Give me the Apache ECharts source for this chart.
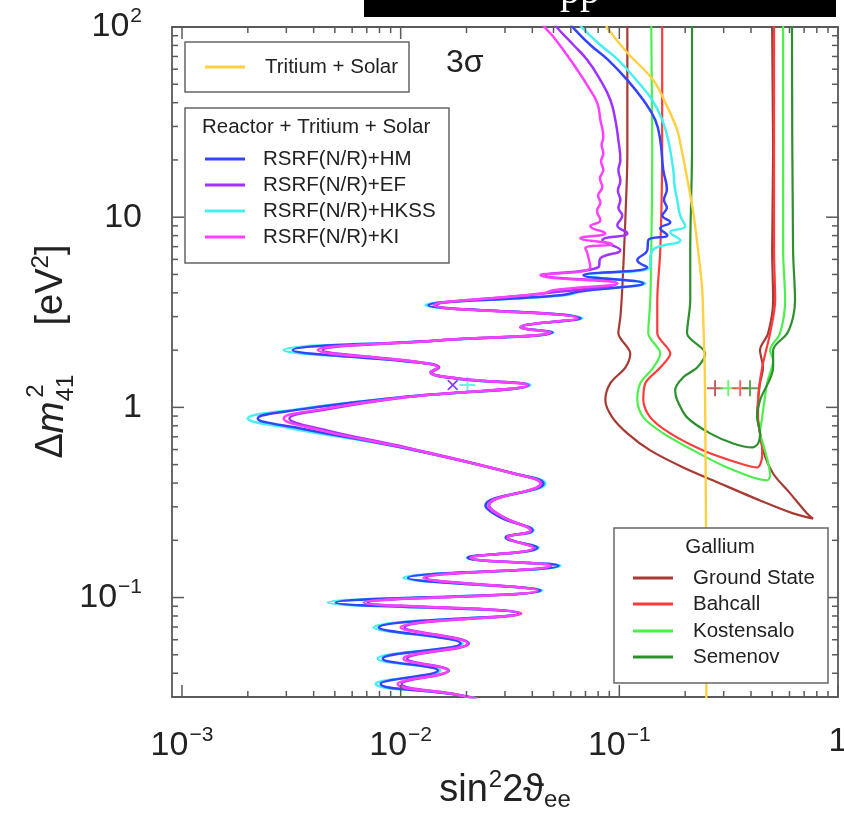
<!DOCTYPE html>
<html>
<head>
<meta charset="utf-8">
<script src="https://cdn.jsdelivr.net/npm/echarts@6/dist/echarts.min.js"></script>
<style>
  html, body { margin: 0; padding: 0; background: #ffffff; }
  #chart { width: 844px; height: 824px; }
</style>
</head>
<body>
<div id="chart"></div>
<script>
// Axis ranges: sin^2(2 theta_ee) on x, Delta m^2_41 [eV^2] on y (both logarithmic)
const X_MIN = 0.0009, X_MAX = 1;
const Y_MIN = 0.03, Y_MAX = 100;

// Tick positions
const xTicksMajor = [0.001, 0.01, 0.1, 1];
const xTicksMinor = [0.002, 0.003, 0.004, 0.005, 0.006, 0.007, 0.008, 0.009,
                     0.02, 0.03, 0.04, 0.05, 0.06, 0.07, 0.08, 0.09,
                     0.2, 0.3, 0.4, 0.5, 0.6, 0.7, 0.8, 0.9];
const yTicksMajor = [0.1, 1, 10, 100];
const yTicksMinor = [0.04, 0.05, 0.06, 0.07, 0.08, 0.09,
                     0.2, 0.3, 0.4, 0.5, 0.6, 0.7, 0.8, 0.9,
                     2, 3, 4, 5, 6, 7, 8, 9,
                     20, 30, 40, 50, 60, 70, 80, 90];

// Tritium + Solar bound [sin^2 2theta, dm^2]
const tritiumSolar = [
  [0.0860, 106], [0.0881, 98.8], [0.109, 73.0], [0.143, 52.6], [0.166, 37.9],
  [0.184, 28.7], [0.190, 24.5], [0.205, 15.7], [0.218, 10.5], [0.230, 6.47],
  [0.239, 4.28], [0.242, 2.94], [0.246, 1.5], [0.248, 0.5], [0.250, 0.1], [0.250, 0.028]
];

// Reactor + Tritium + Solar contours (3 sigma)
const rsrfKI = [
  [0.0255, 0.026], [0.0209, 0.0298], [0.00969, 0.0352], [0.0164, 0.0413], [0.0103, 0.0477],
  [0.0202, 0.0573], [0.0100, 0.0695], [0.0353, 0.0824], [0.00678, 0.0941], [0.0422, 0.109],
  [0.0127, 0.127], [0.0484, 0.147], [0.0209, 0.162], [0.0405, 0.183], [0.0308, 0.207],
  [0.0392, 0.225], [0.0295, 0.264], [0.0252, 0.305], [0.0436, 0.398], [0.0328, 0.449],
  [0.0103, 0.616], [0.00431, 0.757], [0.00292, 0.875], [0.00431, 0.976], [0.0103, 1.13],
  [0.0380, 1.31], [0.0182, 1.42], [0.0137, 1.53], [0.0148, 1.62], [0.0123, 1.72],
  [0.00418, 2.0], [0.0148, 2.25], [0.0484, 2.48], [0.0353, 2.64], [0.0643, 2.94],
  [0.0142, 3.44], [0.0450, 3.98], [0.0500, 4.13], [0.0979, 4.49], [0.0436, 4.95],
  [0.0737, 5.46], [0.0714, 6.46], [0.0699, 6.87], [0.0929, 7.21], [0.0664, 7.75],
  [0.0863, 8.24], [0.0737, 8.97], [0.0819, 9.64], [0.0790, 10.8], [0.0819, 11.9],
  [0.0800, 13.0], [0.0836, 14.4], [0.0815, 16.0], [0.0845, 17.7], [0.0825, 19.6],
  [0.0845, 21.7], [0.0830, 24.0], [0.0845, 26.4], [0.0819, 32.4], [0.0793, 39.8],
  [0.0722, 48.3], [0.0643, 59.4], [0.0567, 73.0], [0.0500, 88.6], [0.0459, 98.8], [0.0440, 106]
];
const rsrfEF = [
  [0.0255, 0.026], [0.0209, 0.0298], [0.0101, 0.0352], [0.0166, 0.0413], [0.0107, 0.0477],
  [0.0205, 0.0573], [0.0104, 0.0695], [0.0356, 0.0824], [0.0071, 0.0941], [0.0425, 0.109],
  [0.0131, 0.127], [0.0487, 0.147], [0.0211, 0.162], [0.0407, 0.183], [0.0310, 0.207],
  [0.0394, 0.225], [0.0297, 0.264], [0.0254, 0.305], [0.0438, 0.398], [0.0330, 0.449],
  [0.0106, 0.616], [0.0046, 0.757], [0.0031, 0.875], [0.0046, 0.976], [0.0106, 1.13],
  [0.0382, 1.31], [0.0184, 1.42], [0.0139, 1.53], [0.0150, 1.62], [0.0125, 1.72],
  [0.0044, 2.0], [0.0150, 2.25], [0.0487, 2.48], [0.0356, 2.64], [0.0646, 2.94],
  [0.0146, 3.44], [0.0459, 3.98], [0.0979, 4.49], [0.0459, 4.95], [0.0802, 5.46],
  [0.0819, 6.08], [0.1011, 6.70], [0.0836, 7.57], [0.1088, 8.24], [0.0979, 9.08],
  [0.1032, 10.2], [0.0990, 11.2], [0.1011, 12.3], [0.0985, 13.8], [0.1011, 15.5],
  [0.0990, 17.7], [0.1011, 20.0], [0.0990, 25.4], [0.0959, 32.4],
  [0.0910, 41.3], [0.0819, 52.6], [0.0714, 67.0], [0.0617, 80.4], [0.0521, 98.8], [0.0500, 106]
];
const rsrfHM = [
  [0.0258, 0.0254], [0.0209, 0.0298], [0.00810, 0.0352], [0.0148, 0.0413], [0.00828, 0.0477],
  [0.0188, 0.0573], [0.00794, 0.0695], [0.0346, 0.0824], [0.00505, 0.0941], [0.0436, 0.109],
  [0.0108, 0.127], [0.0527, 0.147], [0.0202, 0.162], [0.0422, 0.183], [0.0302, 0.207],
  [0.0401, 0.225], [0.0286, 0.264], [0.0244, 0.305], [0.0450, 0.398], [0.0328, 0.449],
  [0.0100, 0.616], [0.00349, 0.775], [0.00222, 0.875], [0.00349, 0.976], [0.0100, 1.13],
  [0.0384, 1.31], [0.0178, 1.42], [0.0137, 1.53], [0.0148, 1.62], [0.0121, 1.72],
  [0.00321, 2.0], [0.0148, 2.25], [0.0494, 2.48], [0.0353, 2.64], [0.0664, 2.94],
  [0.0134, 3.44], [0.0538, 3.89], [0.0664, 4.08], [0.1287, 4.49], [0.0685, 4.95],
  [0.1342, 5.46], [0.1208, 5.94], [0.1342, 6.70], [0.1356, 7.57], [0.1657, 8.04],
  [0.1539, 8.75], [0.1710, 9.41], [0.1572, 10.2], [0.1650, 11.2], [0.1600, 12.3],
  [0.1650, 14.0], [0.1588, 17.7], [0.1539, 25.4], [0.1460, 32.4], [0.1287, 41.3],
  [0.1088, 52.6], [0.0891, 67.0], [0.0737, 80.4], [0.0617, 98.8], [0.0590, 106]
];
const rsrfHKSS = [
  [0.0264, 0.0254], [0.0213, 0.0298], [0.00769, 0.0352], [0.0152, 0.0413], [0.00785, 0.0477],
  [0.0192, 0.0573], [0.00753, 0.0695], [0.0353, 0.0824], [0.00464, 0.0941], [0.0445, 0.109],
  [0.0103, 0.127], [0.0538, 0.147], [0.0202, 0.162], [0.0427, 0.183], [0.0305, 0.207],
  [0.0405, 0.225], [0.0289, 0.264], [0.0247, 0.305], [0.0459, 0.398], [0.0332, 0.449],
  [0.0100, 0.616], [0.00315, 0.775], [0.00200, 0.875], [0.00332, 0.976], [0.0100, 1.13],
  [0.0392, 1.31], [0.0178, 1.42], [0.0137, 1.53], [0.0149, 1.62], [0.0121, 1.72],
  [0.00292, 2.0], [0.0148, 2.25], [0.0500, 2.48], [0.0353, 2.64], [0.0678, 2.94],
  [0.0130, 3.44], [0.0567, 3.89], [0.0678, 4.08], [0.1315, 4.49], [0.0699, 4.95],
  [0.1385, 5.46], [0.1385, 6.08], [0.1460, 6.87], [0.1899, 7.57], [0.1710, 8.34],
  [0.2001, 8.97], [0.1899, 10.2], [0.1840, 12.3], [0.1790, 14.5], [0.1765, 17.7],
  [0.1674, 25.4], [0.1572, 32.4], [0.1415, 41.3], [0.1196, 52.6], [0.0990, 67.0],
  [0.0819, 80.4], [0.0678, 98.8], [0.0650, 106]
];

// Gallium contours (3 sigma)
const gaGroundState = [
  [0.1088, 107], [0.1088, 98.8], [0.1088, 41.3], [0.1088, 21.7], [0.1065, 9.64],
  [0.1032, 4.28], [0.1011, 2.98], [0.0990, 2.45], [0.1122, 1.92], [0.1065, 1.62],
  [0.0910, 1.34], [0.0863, 1.09], [0.0929, 0.886], [0.1088, 0.730], [0.1385, 0.594],
  [0.1960, 0.483], [0.289, 0.398], [0.440, 0.324], [0.623, 0.277], [0.769, 0.260],
  [0.722, 0.277], [0.604, 0.353], [0.505, 0.449], [0.454, 0.594], [0.440, 0.730],
  [0.427, 0.930], [0.431, 1.09], [0.440, 1.34], [0.454, 1.62], [0.440, 2.0],
  [0.479, 2.45], [0.505, 3.66], [0.500, 6.70], [0.505, 22.5], [0.500, 98.8], [0.500, 107]
];
const gaBahcall = [
  [0.157, 107], [0.157, 98.8], [0.157, 22.5], [0.1539, 6.70], [0.1491, 3.66],
  [0.1491, 2.45], [0.1710, 1.92], [0.1539, 1.62], [0.1315, 1.34], [0.1287, 1.09],
  [0.1385, 0.886], [0.1710, 0.730], [0.242, 0.594], [0.357, 0.507], [0.427, 0.483],
  [0.450, 0.559], [0.450, 0.616], [0.440, 0.730], [0.431, 0.886], [0.431, 1.09],
  [0.450, 1.62], [0.489, 2.45], [0.516, 3.66], [0.510, 6.70], [0.510, 98.8], [0.510, 107]
];
const gaKostensalo = [
  [0.140, 107], [0.140, 98.8], [0.1415, 22.5], [0.140, 6.70], [0.1385, 3.66],
  [0.1356, 2.45], [0.1539, 1.92], [0.1430, 1.62], [0.1247, 1.34], [0.1208, 1.09],
  [0.1287, 0.886], [0.1588, 0.730], [0.218, 0.594], [0.311, 0.483], [0.474, 0.413],
  [0.489, 0.439], [0.454, 0.646], [0.440, 0.730], [0.450, 0.886], [0.474, 1.34],
  [0.505, 1.77], [0.489, 2.0], [0.543, 2.45], [0.573, 3.66], [0.561, 6.70],
  [0.561, 98.8], [0.561, 107]
];
const gaSemenov = [
  [0.215, 107], [0.215, 98.8], [0.215, 22.5], [0.211, 6.70], [0.211, 3.66],
  [0.204, 2.45], [0.247, 1.92], [0.227, 1.62], [0.196, 1.44], [0.180, 1.23],
  [0.184, 1.09], [0.204, 0.886], [0.260, 0.730], [0.332, 0.646], [0.405, 0.616],
  [0.431, 0.646], [0.440, 0.730], [0.427, 0.886], [0.440, 1.09], [0.505, 1.62],
  [0.505, 2.0], [0.585, 2.45], [0.623, 2.98], [0.636, 3.66], [0.623, 6.70],
  [0.616, 98.8], [0.616, 107]
];

// Best-fit points
const bfReactor = [[0.0173, 1.31]];
const bfReactorHKSS = [[0.0202, 1.31]];
const bfGaGroundState = [[0.274, 1.26]];
const bfGaKostensalo = [[0.315, 1.26]];
const bfGaBahcall = [[0.357, 1.26]];
const bfGaSemenov = [[0.396, 1.26]];

// ---------------------------------------------------------------
const FONT = '"Liberation Sans", Arial, Helvetica, sans-serif';
const SERIF = '"Liberation Serif", "DejaVu Serif", serif';
const TEXT = '#222222';
const FRAME = '#5a5a5a';

const C = {
  tritium: '#ffd040',
  hm: '#3344ff',
  ef: '#a033ff',
  hkss: '#44f0f0',
  ki: '#ff40ff',
  ground: '#a83a34',
  bahcall: '#ff3b3b',
  kosten: '#4cf04c',
  semenov: '#2e8f2e'
};

const PLUS = 'path://M0,4.4H10V5.6H0Z M4.4,0H5.6V10H4.4Z';

function contour(name, data, color, smooth, width) {
  return {
    type: 'line', name: name, data: data,
    symbol: 'none', showSymbol: false, smooth: smooth,
    clip: true, silent: true,
    lineStyle: { color: color, width: width }
  };
}
function marker(data, color, size, rot) {
  return {
    type: 'scatter', data: data, symbol: PLUS, symbolSize: size,
    symbolRotate: rot || 0, silent: true,
    itemStyle: { color: color }
  };
}

function decadeLabel(v) {
  const e = Math.round(Math.log10(v));
  if (Math.abs(Math.log10(v) - e) > 1e-6) return '';
  if (e === 0) return '{b|1}';
  if (e === 1) return '{b|10}';
  return '{b|10}{s|' + (e < 0 ? '\u2212' + (-e) : e) + '}';
}
const tickRich = {
  b: { fontSize: 34, fontFamily: FONT, color: TEXT },
  s: { fontSize: 21, fontFamily: FONT, color: TEXT, padding: [0, 0, 21, 1] }
};

// frame ticks on all four sides, drawn inward
function xTickItem(params, api) {
  const v = api.value(0);
  const len = api.value(2) ? 12 : 6;
  const b = api.coord([v, Y_MIN]);
  const t = api.coord([v, Y_MAX]);
  const st = { stroke: FRAME, lineWidth: 1.5 };
  return { type: 'group', children: [
    { type: 'line', shape: { x1: b[0], y1: b[1], x2: b[0], y2: b[1] - len }, style: st },
    { type: 'line', shape: { x1: t[0], y1: t[1], x2: t[0], y2: t[1] + len }, style: st }
  ]};
}
function yTickItem(params, api) {
  const v = api.value(1);
  const len = api.value(2) ? 12 : 6;
  const l = api.coord([X_MIN, v]);
  const r = api.coord([X_MAX, v]);
  const st = { stroke: FRAME, lineWidth: 1.5 };
  return { type: 'group', children: [
    { type: 'line', shape: { x1: l[0], y1: l[1], x2: l[0] + len, y2: l[1] }, style: st },
    { type: 'line', shape: { x1: r[0], y1: r[1], x2: r[0] - len, y2: r[1] }, style: st }
  ]};
}

const xTickData = xTicksMajor.map(v => [v, 1, 1]).concat(xTicksMinor.map(v => [v, 1, 0]));
const yTickData = yTicksMajor.map(v => [0.01, v, 1]).concat(yTicksMinor.map(v => [0.01, v, 0]));

// legend boxes
function legendBox(x, y, w, h) {
  return { type: 'rect', shape: { x: x, y: y, width: w, height: h },
           style: { fill: '#ffffff', stroke: '#666666', lineWidth: 1.5 }, z: 100 };
}
function legendEntry(x1, x2, tx, y, color, label) {
  return [
    { type: 'line', shape: { x1: x1, y1: y, x2: x2, y2: y },
      style: { stroke: color, lineWidth: 3 }, z: 101 },
    { type: 'text', x: tx, y: y, z: 101,
      style: { text: label, font: '20.5px ' + FONT, fill: TEXT,
               textAlign: 'left', textVerticalAlign: 'middle' } }
  ];
}

const graphics = [].concat(
  [
    { type: 'rect', shape: { x: 364, y: 0, width: 472, height: 17 }, style: { fill: '#000000' }, z: 200 },
    { type: 'text', x: 580, y: -8, z: 201,
      style: { text: 'pp', font: '40px ' + SERIF, fill: '#ffffff',
               textAlign: 'center', textVerticalAlign: 'middle' } },
    legendBox(185, 42, 224, 50),
    legendBox(185, 108, 264, 155),
    legendBox(614, 528, 214, 155),
    { type: 'text', x: 202, y: 127, z: 101,
      style: { text: 'Reactor + Tritium + Solar', font: '20.5px ' + FONT, fill: TEXT,
               textAlign: 'left', textVerticalAlign: 'middle' } },
    { type: 'text', x: 720, y: 547, z: 101,
      style: { text: 'Gallium', font: '20.5px ' + FONT, fill: TEXT,
               textAlign: 'center', textVerticalAlign: 'middle' } },
    { type: 'text', x: 446, y: 63, z: 101,
      style: { text: '3\u03c3', font: '32px ' + FONT, fill: TEXT,
               textAlign: 'left', textVerticalAlign: 'middle' } },
    // y-axis title, rotated
    { type: 'text', x: 52, y: 430, rotation: Math.PI / 2,
      style: { text: '{d|\u0394}{m|m}', textAlign: 'center', textVerticalAlign: 'middle',
               rich: { d: { font: '38px ' + FONT, fill: TEXT },
                       m: { font: 'italic 38px ' + FONT, fill: TEXT } } } },
    { type: 'text', x: 36, y: 391, rotation: Math.PI / 2,
      style: { text: '2', font: '24px ' + FONT, fill: TEXT, textAlign: 'center', textVerticalAlign: 'middle' } },
    { type: 'text', x: 66, y: 388, rotation: Math.PI / 2,
      style: { text: '41', font: '24px ' + FONT, fill: TEXT, textAlign: 'center', textVerticalAlign: 'middle' } },
    { type: 'text', x: 52, y: 285, rotation: Math.PI / 2,
      style: { text: '{b|[eV}{s|2}{b|]}', textAlign: 'center', textVerticalAlign: 'middle',
               rich: { b: { font: '38px ' + FONT, fill: TEXT },
                       s: { font: '24px ' + FONT, fill: TEXT, padding: [0, 0, 22, 0] } } } }
  ],
  legendEntry(205, 245, 265, 67, C.tritium, 'Tritium + Solar'),
  legendEntry(205, 245, 263, 159, C.hm, 'RSRF(N/R)+HM'),
  legendEntry(205, 245, 263, 185, C.ef, 'RSRF(N/R)+EF'),
  legendEntry(205, 245, 263, 211, C.hkss, 'RSRF(N/R)+HKSS'),
  legendEntry(205, 245, 263, 237, C.ki, 'RSRF(N/R)+KI'),
  legendEntry(633, 673, 693, 578, C.ground, 'Ground State'),
  legendEntry(633, 673, 693, 604, C.bahcall, 'Bahcall'),
  legendEntry(633, 673, 693, 631, C.kosten, 'Kostensalo'),
  legendEntry(633, 673, 693, 657, C.semenov, 'Semenov')
);

const chart = echarts.init(document.getElementById('chart'), null, { renderer: 'canvas' });
chart.setOption({
  animation: false,
  backgroundColor: '#ffffff',
  grid: {
    left: 172, right: 6, top: 27, bottom: 127,
    show: true, borderColor: FRAME, borderWidth: 1.8, backgroundColor: 'transparent',
    containLabel: false, outerBoundsMode: 'none'
  },
  xAxis: {
    type: 'log', logBase: 10, min: X_MIN, max: X_MAX,
    axisLine: { show: false }, axisTick: { show: false }, splitLine: { show: false },
    axisLabel: { formatter: decadeLabel, rich: tickRich, margin: 28 },
    name: '{b|sin}{p|2}{b|2\u03d1}{q|ee}',
    nameLocation: 'middle', nameGap: 70,
    nameTextStyle: {
      rich: {
        b: { fontSize: 38, fontFamily: FONT, color: TEXT },
        p: { fontSize: 24, fontFamily: FONT, color: TEXT, padding: [0, 0, 22, 1] },
        q: { fontSize: 24, fontFamily: FONT, color: TEXT, padding: [18, 0, 0, 0] }
      }
    }
  },
  yAxis: {
    type: 'log', logBase: 10, min: Y_MIN, max: Y_MAX,
    axisLine: { show: false }, axisTick: { show: false }, splitLine: { show: false },
    axisLabel: { formatter: decadeLabel, rich: tickRich, margin: 30 }
  },
  series: [
    contour('Ground State', gaGroundState, C.ground, 0.3, 2.2),
    contour('Bahcall', gaBahcall, C.bahcall, 0.3, 2.2),
    contour('Kostensalo', gaKostensalo, C.kosten, 0.3, 2.2),
    contour('Semenov', gaSemenov, C.semenov, 0.3, 2.2),
    contour('RSRF(N/R)+HKSS', rsrfHKSS, C.hkss, 0.45, 2.5),
    contour('RSRF(N/R)+HM', rsrfHM, C.hm, 0.45, 2.5),
    contour('RSRF(N/R)+EF', rsrfEF, C.ef, 0.45, 2.5),
    contour('RSRF(N/R)+KI', rsrfKI, C.ki, 0.45, 2.5),
    contour('Tritium + Solar', tritiumSolar, C.tritium, 0.3, 2.4),
    marker(bfReactorHKSS, C.hkss, 16, 0),
    marker(bfReactor, C.hm, 14, 45),
    marker(bfReactor, C.ef, 12, 45),
    marker(bfGaGroundState, C.ground, 16, 0),
    marker(bfGaKostensalo, C.kosten, 16, 0),
    marker(bfGaBahcall, C.bahcall, 16, 0),
    marker(bfGaSemenov, C.semenov, 16, 0),
    { type: 'custom', data: xTickData, renderItem: xTickItem, clip: false, silent: true, z: 50 },
    { type: 'custom', data: yTickData, renderItem: yTickItem, clip: false, silent: true, z: 50 }
  ],
  graphic: graphics
});
</script>
</body>
</html>
